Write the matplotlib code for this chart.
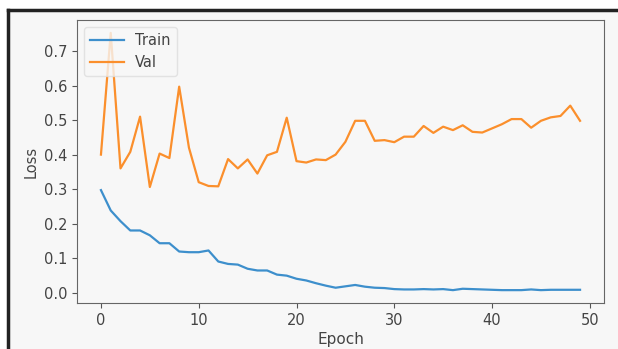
import numpy as np
import matplotlib
matplotlib.use("Agg")
import matplotlib.pyplot as plt
from matplotlib.lines import Line2D

# valores
epochs = list(range(50))
train_loss = [0.297, 0.238, 0.207, 0.180, 0.180, 0.166, 0.143, 0.143, 0.119, 0.117,
              0.117, 0.122, 0.090, 0.083, 0.081, 0.069, 0.064, 0.064, 0.052, 0.049,
              0.040, 0.035, 0.027, 0.020, 0.014, 0.018, 0.022, 0.017, 0.014, 0.013,
              0.010, 0.009, 0.009, 0.010, 0.009, 0.010, 0.007, 0.011, 0.010, 0.009,
              0.008, 0.007, 0.007, 0.007, 0.009, 0.007, 0.008, 0.008, 0.008, 0.008]
val_loss = [0.400, 0.753, 0.360, 0.408, 0.510, 0.306, 0.403, 0.390, 0.597, 0.420,
            0.320, 0.309, 0.308, 0.387, 0.360, 0.386, 0.345, 0.398, 0.408, 0.507,
            0.381, 0.377, 0.386, 0.384, 0.400, 0.437, 0.498, 0.498, 0.440, 0.442,
            0.436, 0.452, 0.452, 0.483, 0.463, 0.481, 0.471, 0.485, 0.466, 0.464,
            0.476, 0.488, 0.503, 0.503, 0.478, 0.498, 0.508, 0.512, 0.542, 0.498]

bg = '#f7f7f7'
fig = plt.figure(figsize=(6.18, 3.49), dpi=100, facecolor='white')
# fondo gris dentro del marco de la captura
fig.patches.append(plt.Rectangle((8 / 618, 0), 1, 1 - 10 / 349,
                                 transform=fig.transFigure, facecolor=bg,
                                 edgecolor='none', zorder=-10))
ax = fig.add_axes([77 / 618, 46 / 349, 527 / 618, 283 / 349])
ax.set_facecolor(bg)

ax.plot(epochs, train_loss, label='Train', color='#3d8fcc', lw=1.6)
ax.plot(epochs, val_loss, label='Val', color='#fb8f2c', lw=1.6)
ax.set_xlabel('Epoch', color='#444444', fontsize=11, labelpad=3)
ax.set_ylabel('Loss', color='#444444', fontsize=10.5)
ax.set_xticks([0, 10, 20, 30, 40, 50])
ax.set_yticks([0.0, 0.1, 0.2, 0.3, 0.4, 0.5, 0.6, 0.7])
ax.tick_params(colors='#555555', labelcolor='#444444', labelsize=10.5)
for s in ax.spines.values():
    s.set_color('#666666')
leg = ax.legend(loc='upper left', facecolor=bg, edgecolor='#dddddd',
                fontsize=10.5, handlelength=2.3)
for t in leg.get_texts():
    t.set_color('#444444')

# marco negro de la captura (arriba e izquierda)
fig.add_artist(Line2D([8 / 618, 1], [1 - 10 / 349, 1 - 10 / 349],
                      transform=fig.transFigure, color='#222222', lw=2.5))
fig.add_artist(Line2D([8 / 618, 8 / 618], [0, 1 - 10 / 349],
                      transform=fig.transFigure, color='#222222', lw=2.5))

fig.savefig('out.png', dpi=100, facecolor='white')
